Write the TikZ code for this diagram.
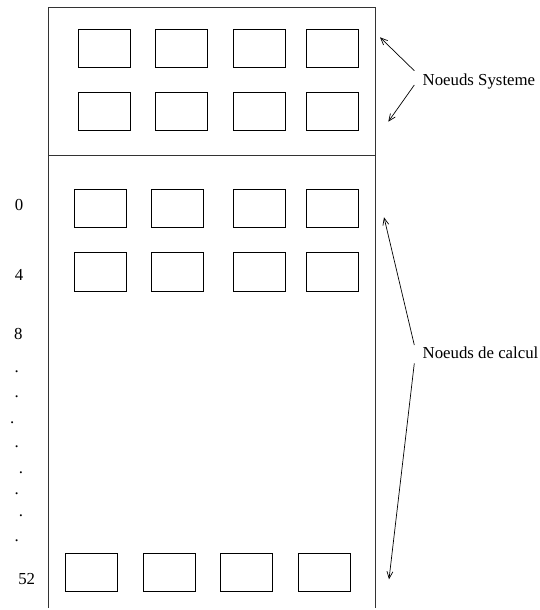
\documentclass[tikz,border=0pt]{standalone}
\usepackage{fontspec}
\setmainfont{Liberation Serif}
\usetikzlibrary{arrows.meta}

\begin{document}
\begin{tikzpicture}[x=1pt,y=-1pt,
  frame/.style={line width=0.9pt, draw=black!80},
  cell/.style={draw, line width=0.9pt, rectangle, inner sep=0pt, outer sep=0pt,
               minimum width=52pt, minimum height=38.4pt},
  pointer/.style={line width=0.7pt, -{Straight Barb[length=7pt,width=6pt]}},
  lbl/.style={inner sep=0pt, font=\fontsize{16.8}{20}\selectfont},
  rowlbl/.style={lbl, anchor=base},
  caption/.style={lbl, anchor=base west}]
  \useasboundingbox (0,0) rectangle (540,610);

  % machine frame, open at the bottom, with the system partition on top
  \draw[frame] (48.7,608) -- (48.7,7.5) -- (375,7.5) -- (375,608);
  \draw[frame] (48.7,155) -- (375,155);

  % system nodes: two rows of four
  \foreach \c/\x in {1/104.5, 2/181.9, 3/259.9, 4/332.9} {
    \node[cell] (sysA\c) at (\x,48.3) {};
    \node[cell] (sysB\c) at (\x,111.2) {};
  }

  % compute nodes, rows 0 and 4
  \foreach \c/\x in {1/100.2, 2/177.9, 3/259.5, 4/332.9} {
    \node[cell] (calc0\c) at (\x,208.7) {};
    \node[cell] (calc4\c) at (\x,271.9) {};
  }

  % compute nodes, row 52
  \foreach \c/\x in {1/91.7, 2/169.2, 3/246.7, 4/324.2} {
    \node[cell] (calc52\c) at (\x,572.5) {};
  }

  % row numbers
  \node[rowlbl] (r0) at (19,210.7) {0};
  \node[rowlbl] (r4) at (19,280.7) {4};
  \node[rowlbl] (r8) at (18.3,339) {8};
  \foreach \i/\x/\y in {1/16.7/372, 2/16.7/397, 3/12.3/423.3, 4/16.7/447.7,
                        5/21/473.3, 6/16.7/494.7, 7/21/516, 8/16.7/541} {
    \node[rowlbl] (dot\i) at (\x,\y) {.};
  }
  \node[rowlbl] (r52) at (26.7,584) {52};

  % captions
  \node[caption] (sysLabel) at (422.5,85) {Noeuds Systeme};
  \node[caption] (calcLabel) at (422.5,358.3) {Noeuds de calcul};

  % pointer ends
  \coordinate (sysFrom1) at (414.3,70.7);
  \coordinate (sysTo1) at (380,37.3);
  \coordinate (sysFrom2) at (414.3,85);
  \coordinate (sysTo2) at (388.3,121.7);
  \coordinate (calcFrom1) at (414.3,345);
  \coordinate (calcTo1) at (384,217.3);
  \coordinate (calcFrom2) at (414.3,363.3);
  \coordinate (calcTo2) at (389,579.3);

  \draw[pointer] (sysFrom1) -- (sysTo1);
  \draw[pointer] (sysFrom2) -- (sysTo2);
  \draw[pointer] (calcFrom1) -- (calcTo1);
  \draw[pointer] (calcFrom2) -- (calcTo2);
\end{tikzpicture}
\end{document}
